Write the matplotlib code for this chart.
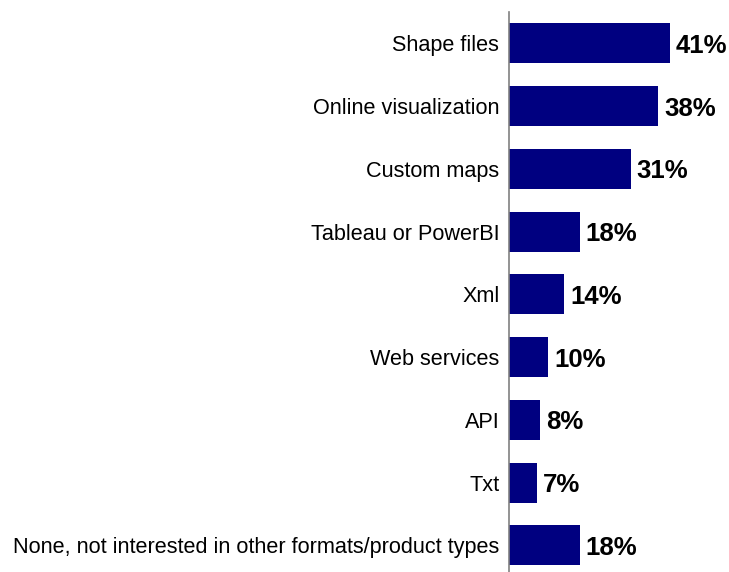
import matplotlib.pyplot as plt

plt.rcParams['font.family'] = ['Liberation Sans', 'DejaVu Sans']

# datos
categories = ['Shape files', 'Online visualization', 'Custom maps', 'Tableau or PowerBI',
              'Xml', 'Web services', 'API', 'Txt',
              'None, not interested in other formats/product types']
values = [41, 38, 31, 18, 14, 10, 8, 7, 18]

fig = plt.figure(figsize=(7.29, 5.72), dpi=100)
ax = fig.add_axes([509 / 729, (572 - 576.75) / 572, 220 / 729, 564.75 / 572])

ypos = list(range(len(categories)))
ax.barh(ypos, values, height=0.64, color='#000080')
for y, v in zip(ypos, values):
    ax.text(v + 1.5, y + 0.04, f'{v}%', va='center', ha='left', fontsize=18.5, fontweight='bold')

ax.set_xlim(0, 56)
ax.set_ylim(8.5, -0.5)
ax.set_yticks(ypos)
ax.set_yticklabels(categories, fontsize=15.6)
ax.tick_params(axis='y', length=0, pad=7)
ax.set_xticks([])
for s in ['top', 'right', 'bottom']:
    ax.spines[s].set_visible(False)
ax.spines['left'].set_color('#808080')
ax.spines['left'].set_linewidth(1.2)

fig.savefig('out.png', dpi=100)
